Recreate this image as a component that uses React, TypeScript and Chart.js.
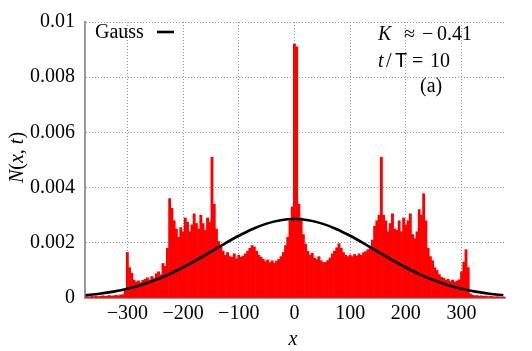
import React, { useEffect, useRef } from "react";
import { Chart, registerables } from "chart.js";

Chart.register(...registerables);

// ---- data (values of N(x,t) in units of 1e-4) ----
const xStart = -376;
const xStep = 4;
const redFarLeft = [0.4, 0.5, 0.4, 0.6, 0.5, 0.7, 0.5, 0.6, 0.8, 0.6, 0.7, 0.9, 0.7, 0.8, 1.0, 0.8, 1.1, 1.2];
const redLeft = [
  3, 16.5, 11, 9, 6.5, 5.8, 6.2, 5.5, 6.4, 6.8, 7.3, 6.6, 7.8, 7.2, 8.8, 9.5, 8.4, 12.5, 11.5, 18,
  36, 32.5, 28, 25, 22, 25.5, 24, 29, 27.5, 24, 26.5, 30.5, 27, 25, 30, 27, 24.5, 29, 27.5, 51,
  34, 25, 20.5, 18.5, 17, 15.5, 16.5, 15, 14.8, 16, 14.2, 15.5, 14.8, 15.2, 16, 17, 18, 19, 18.5, 17,
  15.5, 14.8, 14, 13.2, 13.8, 12.8, 13.5, 12.6, 13.4, 14, 15, 16.5, 19, 22, 28, 33,
];
const redRight = [
  92, 91, 34, 29, 23, 19.5, 17, 15.5, 16.2, 14.5, 14, 15, 13.5, 12.8, 13, 13.6, 14.5, 16, 17, 18.2,
  19.7, 18, 16.5, 15.5, 15, 15.6, 15, 15.8, 15.2, 16, 15.5, 16.4, 16.8, 17.5, 18.5, 21, 26, 28, 30, 51,
  30, 28, 24, 27, 30.5, 25, 24.5, 28, 24, 29, 26.5, 28, 30.5, 23, 21.5, 24, 32, 30, 37.8, 28,
  18, 15, 13.5, 11, 10, 8.5, 7.5, 7.2, 6.5, 6.8, 6, 6.5, 5.8, 6.2, 6.6, 9.5, 13, 17.5, 11,
];
const redFarRight = [1.5, 1.0, 0.8, 0.9, 0.7, 0.8, 0.6, 0.7, 0.5, 0.6, 0.5, 0.4, 0.5, 0.4, 0.3, 0.4];

const gaussX = [
  -375, -350, -325, -300, -275, -250, -225, -200, -175, -150, -125, -100, -75, -50, -25, 0,
  25, 50, 75, 100, 125, 150, 175, 200, 225, 250, 275, 300, 325, 350, 375,
];
const gaussVals = [
  1.01, 1.55, 2.32, 3.36, 4.74, 6.47, 8.58, 11.05, 13.81, 16.75, 19.73, 22.55, 25.02, 26.95, 28.18, 28.6,
  28.18, 26.95, 25.02, 22.55, 19.73, 16.75, 13.81, 11.05, 8.58, 6.47, 4.74, 3.36, 2.32, 1.55, 1.01,
];

const xTicks = [-300, -200, -100, 0, 100, 200, 300];
const yTicks = [0, 0.002, 0.004, 0.006, 0.008, 0.01];
const yTickLabels = ["0", "0.002", "0.004", "0.006", "0.008", "0.01"];

const SERIF = '"Liberation Serif", "Times New Roman", serif';
const F = `20px ${SERIF}`;
const FI = `italic 20px ${SERIF}`;
const FS = `20px "Liberation Sans", Arial, sans-serif`;

type Part = { t: string; f: string };

function richWidth(ctx: CanvasRenderingContext2D, parts: Part[]) {
  let w = 0;
  for (const p of parts) {
    ctx.font = p.f;
    w += ctx.measureText(p.t).width;
  }
  return w;
}

function drawRich(ctx: CanvasRenderingContext2D, parts: Part[], x: number, y: number) {
  let cx = x;
  for (const p of parts) {
    ctx.font = p.f;
    ctx.fillText(p.t, cx, y);
    cx += ctx.measureText(p.t).width;
  }
}

const textPlugin = {
  id: "texts",
  afterDraw(chart: any) {
    const ctx: CanvasRenderingContext2D = chart.ctx;
    ctx.save();
    ctx.fillStyle = "#000";
    ctx.textAlign = "left";
    ctx.textBaseline = "alphabetic";

    // legend
    ctx.font = F;
    ctx.fillText("Gauss", 95, 38);
    ctx.strokeStyle = "#000";
    ctx.lineWidth = 2.6;
    ctx.beginPath();
    ctx.moveTo(157, 32);
    ctx.lineTo(174, 32);
    ctx.stroke();

    // annotations
    ctx.font = FI;
    ctx.fillText("K", 378, 39.5);
    ctx.font = F;
    ctx.fillText("\u2248", 404, 39.5);
    ctx.fillText("\u2212", 422, 39.5);
    ctx.fillText("0.41", 437, 39.5);

    ctx.font = FI;
    ctx.fillText("t", 378, 66.5);
    ctx.font = F;
    ctx.fillText("/", 386, 66.5);
    ctx.font = FS;
    ctx.fillText("T", 395, 66.5);
    ctx.font = F;
    ctx.fillText("=", 412, 66.5);
    ctx.fillText("10", 430, 66.5);
    ctx.fillText("(a)", 420, 92);

    // x axis title
    ctx.font = FI;
    ctx.textAlign = "center";
    ctx.fillText("x", 293, 345);

    // y axis title
    const yParts: Part[] = [
      { t: "N", f: FI },
      { t: "(", f: F },
      { t: "x", f: FI },
      { t: ", ", f: F },
      { t: "t", f: FI },
      { t: ")", f: F },
    ];
    ctx.textAlign = "left";
    const w = richWidth(ctx, yParts);
    ctx.translate(23, 157.5);
    ctx.rotate(-Math.PI / 2);
    drawRich(ctx, yParts, -w / 2, 0);
    ctx.restore();
  },
};

export default function App() {
  const ref = useRef<HTMLCanvasElement | null>(null);

  useEffect(() => {
    if (!ref.current) return;
    const redVals = [...redFarLeft, ...redLeft, ...redRight, ...redFarRight];
    const redData = redVals.map((v, i) => ({ x: xStart + i * xStep, y: v * 1e-4 }));
    const gaussData = gaussX.map((x, i) => ({ x, y: gaussVals[i] * 1e-4 }));

    const chart = new Chart(ref.current, {
      type: "bar",
      data: {
        datasets: [
          {
            type: "line",
            label: "Gauss",
            data: gaussData,
            borderColor: "#000",
            borderWidth: 2.6,
            pointRadius: 0,
            fill: false,
            cubicInterpolationMode: "monotone",
            order: 0,
          } as any,
          {
            type: "bar",
            label: "N",
            data: redData,
            backgroundColor: "#ff0000",
            borderWidth: 0,
            barPercentage: 1,
            categoryPercentage: 1,
            order: 1,
          } as any,
        ],
      },
      options: {
        responsive: false,
        animation: false,
        events: [],
        layout: { padding: { left: 0, right: 27, top: 17, bottom: 0 } },
        plugins: { legend: { display: false }, tooltip: { enabled: false } },
        scales: {
          x: {
            type: "linear",
            min: -376,
            max: 378,
            offset: false,
            grid: { color: "#999", lineWidth: 1, drawTicks: false, offset: false },
            border: { display: true, color: "#999", width: 2, dash: [1, 2] },
            ticks: {
              font: { family: SERIF, size: 20 },
              color: "#000",
              padding: 4,
              maxRotation: 0,
              autoSkip: false,
              callback: (v: any) => (Number(v) < 0 ? "\u2212" + Math.abs(Number(v)) : String(v)),
            },
            afterBuildTicks: (s: any) => {
              s.ticks = xTicks.map((value) => ({ value }));
            },
            afterFit: (s: any) => {
              s.height = 53;
            },
          } as any,
          y: {
            type: "linear",
            min: 0,
            max: 0.01,
            grid: { color: "#999", lineWidth: 1, drawTicks: false },
            border: { display: true, color: "#999", width: 2, dash: [1, 2] },
            ticks: {
              font: { family: SERIF, size: 20 },
              color: "#000",
              padding: 10,
              autoSkip: false,
              callback: (v: any) => {
                const i = yTicks.findIndex((t) => Math.abs(t - Number(v)) < 1e-9);
                return i >= 0 ? yTickLabels[i] : "";
              },
            },
            afterBuildTicks: (s: any) => {
              s.ticks = yTicks.map((value) => ({ value }));
            },
            afterFit: (s: any) => {
              s.width = 85;
            },
          } as any,
        },
      },
      plugins: [textPlugin],
    });
    return () => chart.destroy();
  }, []);

  return (
    <div style={{ position: "absolute", left: 0, top: 0, width: 532, height: 351, background: "#fff" }}>
      <canvas ref={ref} width={532} height={351} style={{ display: "block", width: 532, height: 351 }} />
    </div>
  );
}
